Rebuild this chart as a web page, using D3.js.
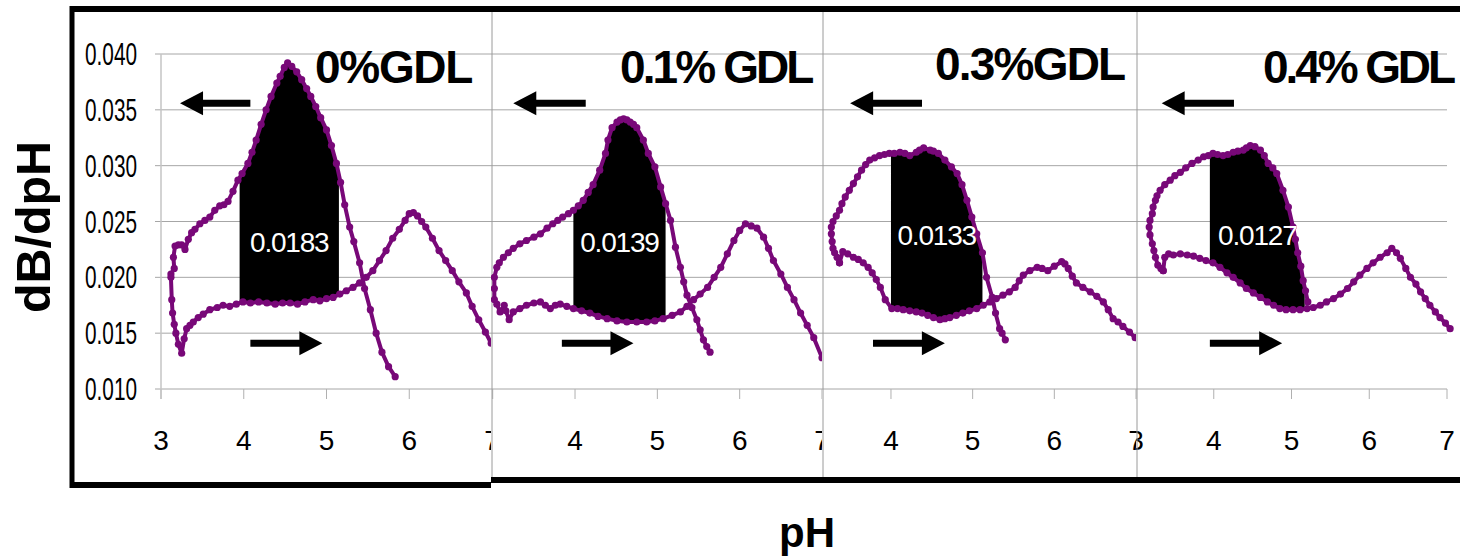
<!DOCTYPE html>
<html>
<head>
<meta charset="utf-8">
<script src="https://cdn.jsdelivr.net/npm/d3@7"></script>
<style>
  body { margin: 0; background: #fff; }
  text { font-family: "Liberation Sans", Arial, sans-serif; }
  .narrow { font-family: "Liberation Sans Narrow", "Arial Narrow", sans-serif; }
</style>
</head>
<body>
<div id="chart"></div>
<script>
// panel titles and the integrated area printed in each black region
var panelNames = ["0%GDL", "0.1% GDL", "0.3%GDL", "0.4% GDL"];
var areaLabels = ["0.0183", "0.0139", "0.0133", "0.0127"];
var areaRange = [[3.95, 5.15], [3.98, 5.10], [4.00, 5.12], [3.95, 5.17]];
var yTicks = [0.010, 0.015, 0.020, 0.025, 0.030, 0.035, 0.040];
var xTicks = [3, 4, 5, 6, 7];

// acid titration (pH going down, upper branch), then base titration (pH going up)
var acid0 = [[5.83,0.0111],[5.75,0.0120],[5.67,0.0133],[5.60,0.0150],[5.53,0.0171],[5.46,0.0190],[5.40,0.0213],[5.33,0.0232],[5.28,0.0245],[5.22,0.0265],[5.17,0.0285],[5.12,0.0302],[5.06,0.0318],[5.00,0.0332],[4.93,0.0343],[4.87,0.0353],[4.81,0.0362],[4.76,0.0369],[4.70,0.0377],[4.64,0.0384],[4.58,0.0389],[4.53,0.0392],[4.49,0.0388],[4.44,0.0380],[4.40,0.0374],[4.33,0.0362],[4.27,0.0350],[4.21,0.0337],[4.15,0.0323],[4.10,0.0312],[4.05,0.0302],[3.98,0.0293],[3.93,0.0287],[3.87,0.0277],[3.81,0.0268],[3.76,0.0265],[3.71,0.0264],[3.65,0.0260],[3.59,0.0254],[3.53,0.0251],[3.47,0.0248],[3.41,0.0243],[3.37,0.0240],[3.33,0.0234],[3.29,0.0225],[3.25,0.0229],[3.21,0.0229],[3.17,0.0228],[3.15,0.0218],[3.16,0.0208],[3.12,0.0203]];
var base0 = [[3.12,0.0200],[3.13,0.0180],[3.14,0.0168],[3.16,0.0158],[3.18,0.0150],[3.21,0.0140],[3.25,0.0132],[3.28,0.0145],[3.31,0.0154],[3.35,0.0157],[3.39,0.0160],[3.45,0.0164],[3.51,0.0167],[3.59,0.0171],[3.68,0.0173],[3.75,0.0175],[3.83,0.0174],[3.91,0.0176],[3.99,0.0178],[4.08,0.0177],[4.18,0.0178],[4.28,0.0177],[4.38,0.0176],[4.47,0.0177],[4.56,0.0177],[4.65,0.0176],[4.74,0.0178],[4.84,0.0180],[4.92,0.0179],[5.00,0.0181],[5.08,0.0182],[5.16,0.0185],[5.24,0.0188],[5.32,0.0191],[5.40,0.0195],[5.48,0.0200],[5.56,0.0206],[5.64,0.0215],[5.72,0.0224],[5.80,0.0235],[5.88,0.0243],[5.95,0.0251],[6.00,0.0257],[6.05,0.0258],[6.10,0.0255],[6.15,0.0250],[6.20,0.0245],[6.28,0.0235],[6.36,0.0224],[6.44,0.0215],[6.52,0.0206],[6.60,0.0196],[6.69,0.0186],[6.76,0.0174],[6.84,0.0162],[6.92,0.0151],[6.99,0.0141]];

var acid1 = [[5.64,0.0133],[5.60,0.0138],[5.56,0.0144],[5.52,0.0153],[5.48,0.0162],[5.42,0.0173],[5.36,0.0184],[5.32,0.0196],[5.28,0.0209],[5.22,0.0227],[5.16,0.0251],[5.10,0.0266],[5.04,0.0281],[4.97,0.0299],[4.89,0.0311],[4.83,0.0323],[4.75,0.0334],[4.71,0.0337],[4.67,0.0339],[4.63,0.0341],[4.59,0.0342],[4.55,0.0341],[4.51,0.0339],[4.45,0.0334],[4.40,0.0323],[4.37,0.0311],[4.30,0.0296],[4.22,0.0283],[4.16,0.0276],[4.10,0.0269],[4.04,0.0264],[3.98,0.0260],[3.92,0.0257],[3.85,0.0254],[3.79,0.0251],[3.73,0.0248],[3.66,0.0244],[3.58,0.0239],[3.50,0.0236],[3.41,0.0233],[3.33,0.0230],[3.25,0.0226],[3.19,0.0222],[3.13,0.0218],[3.08,0.0213],[3.05,0.0209],[3.02,0.0200],[3.02,0.0190]];
var base1 = [[3.02,0.0180],[3.05,0.0176],[3.09,0.0169],[3.14,0.0175],[3.16,0.0170],[3.20,0.0162],[3.25,0.0169],[3.33,0.0172],[3.41,0.0175],[3.50,0.0177],[3.58,0.0178],[3.64,0.0175],[3.70,0.0172],[3.76,0.0175],[3.82,0.0176],[3.90,0.0174],[3.98,0.0172],[4.08,0.0170],[4.18,0.0168],[4.28,0.0165],[4.39,0.0163],[4.51,0.0161],[4.63,0.0160],[4.75,0.0160],[4.87,0.0160],[4.97,0.0161],[5.07,0.0163],[5.18,0.0166],[5.28,0.0169],[5.36,0.0174],[5.44,0.0180],[5.52,0.0185],[5.61,0.0191],[5.69,0.0200],[5.77,0.0209],[5.85,0.0221],[5.93,0.0233],[6.00,0.0242],[6.07,0.0248],[6.14,0.0246],[6.21,0.0244],[6.29,0.0236],[6.35,0.0226],[6.41,0.0215],[6.50,0.0203],[6.58,0.0191],[6.66,0.0180],[6.74,0.0168],[6.82,0.0157],[6.90,0.0146],[7.00,0.0128]];

var acid3 = [[5.40,0.0144],[5.36,0.0150],[5.33,0.0154],[5.28,0.0168],[5.24,0.0182],[5.17,0.0200],[5.12,0.0222],[5.05,0.0239],[4.99,0.0254],[4.93,0.0269],[4.87,0.0283],[4.81,0.0293],[4.74,0.0299],[4.66,0.0305],[4.58,0.0311],[4.52,0.0313],[4.48,0.0314],[4.40,0.0316],[4.35,0.0314],[4.31,0.0312],[4.23,0.0309],[4.17,0.0311],[4.11,0.0312],[4.04,0.0311],[3.98,0.0311],[3.92,0.0310],[3.86,0.0309],[3.80,0.0307],[3.74,0.0305],[3.69,0.0301],[3.64,0.0296],[3.59,0.0290],[3.54,0.0284],[3.49,0.0278],[3.44,0.0272],[3.40,0.0266],[3.37,0.0260],[3.33,0.0255],[3.29,0.0250],[3.27,0.0245],[3.27,0.0239],[3.28,0.0232],[3.29,0.0226],[3.31,0.0222],[3.34,0.0218],[3.37,0.0213]];
var base3 = [[3.37,0.0213],[3.41,0.0223],[3.47,0.0221],[3.54,0.0218],[3.60,0.0216],[3.66,0.0213],[3.72,0.0209],[3.77,0.0204],[3.82,0.0198],[3.87,0.0191],[3.93,0.0180],[4.01,0.0172],[4.08,0.0172],[4.15,0.0171],[4.23,0.0170],[4.31,0.0169],[4.38,0.0168],[4.45,0.0166],[4.52,0.0164],[4.60,0.0162],[4.66,0.0163],[4.72,0.0164],[4.80,0.0166],[4.88,0.0168],[4.96,0.0170],[5.05,0.0172],[5.13,0.0175],[5.21,0.0178],[5.29,0.0181],[5.37,0.0184],[5.45,0.0187],[5.52,0.0191],[5.57,0.0197],[5.62,0.0202],[5.70,0.0206],[5.79,0.0209],[5.85,0.0208],[5.92,0.0206],[6.00,0.0210],[6.09,0.0214],[6.13,0.0212],[6.17,0.0208],[6.22,0.0201],[6.27,0.0195],[6.35,0.0191],[6.44,0.0187],[6.52,0.0183],[6.60,0.0178],[6.66,0.0171],[6.72,0.0163],[6.78,0.0160],[6.84,0.0156],[6.92,0.0151],[6.99,0.0146]];

var acid4 = [[5.21,0.0178],[5.18,0.0188],[5.15,0.0197],[5.12,0.0210],[5.08,0.0222],[5.05,0.0234],[5.02,0.0245],[4.96,0.0263],[4.89,0.0278],[4.81,0.0293],[4.76,0.0298],[4.70,0.0302],[4.65,0.0309],[4.60,0.0314],[4.53,0.0317],[4.47,0.0318],[4.42,0.0316],[4.38,0.0314],[4.31,0.0313],[4.25,0.0312],[4.18,0.0310],[4.12,0.0309],[4.05,0.0310],[3.99,0.0311],[3.93,0.0309],[3.87,0.0308],[3.80,0.0305],[3.72,0.0302],[3.64,0.0298],[3.57,0.0294],[3.50,0.0291],[3.44,0.0287],[3.37,0.0283],[3.31,0.0278],[3.27,0.0273],[3.25,0.0269],[3.22,0.0263],[3.21,0.0257],[3.18,0.0251],[3.17,0.0245],[3.18,0.0238],[3.21,0.0230],[3.23,0.0224],[3.25,0.0218],[3.28,0.0211],[3.32,0.0208],[3.35,0.0206]];
var base4 = [[3.35,0.0206],[3.37,0.0218],[3.42,0.0221],[3.48,0.0220],[3.57,0.0221],[3.66,0.0220],[3.74,0.0219],[3.82,0.0217],[3.90,0.0215],[3.99,0.0213],[4.08,0.0209],[4.17,0.0204],[4.25,0.0200],[4.34,0.0195],[4.42,0.0190],[4.51,0.0186],[4.60,0.0182],[4.69,0.0178],[4.77,0.0175],[4.85,0.0172],[4.93,0.0171],[5.02,0.0171],[5.11,0.0171],[5.20,0.0172],[5.28,0.0173],[5.37,0.0175],[5.45,0.0178],[5.54,0.0181],[5.63,0.0185],[5.72,0.0190],[5.80,0.0196],[5.88,0.0202],[5.97,0.0208],[6.05,0.0213],[6.14,0.0218],[6.23,0.0222],[6.29,0.0226],[6.35,0.0222],[6.40,0.0217],[6.47,0.0208],[6.53,0.0200],[6.60,0.0194],[6.66,0.0187],[6.72,0.0181],[6.78,0.0175],[6.85,0.0169],[6.91,0.0164],[6.98,0.0159],[7.04,0.0154]];

var acids = [acid0, acid1, acid3, acid4];
var bases = [base0, base1, base3, base4];

// the four pasted panels: visible strip, pixel position of pH 3 and pH 7
var panels = [
  {left: 75,   right: 491,  x3: 161,   x7: 492,  gridFrom: 155,  gridTo: 491,  ticks: [3, 4, 5, 6, 7], title: [315, 83, -1.3]},
  {left: 491,  right: 822,  x3: 492.7, x7: 822,  gridFrom: 491,  gridTo: 822,  ticks: [4, 5, 6, 7],    title: [620, 83, -2.9]},
  {left: 822,  right: 1136, x3: 809.3, x7: 1136, gridFrom: 822,  gridTo: 1136, ticks: [4, 5, 6, 7],    title: [935, 80, -1.8]},
  {left: 1136, right: 1460, x3: 1136,  x7: 1447, gridFrom: 1136, gridTo: 1447, ticks: [3, 4, 5, 6, 7], title: [1263, 83, -3.1]}
];
// arrows in data units: [tip pH, tail pH] left arrow, [tail pH, tip pH] right arrow
var leftArrows  = [[3.23, 4.08], [3.25, 4.13], [3.50, 4.38], [3.33, 4.26]];
var rightArrows = [[4.08, 4.95], [3.84, 4.71], [3.78, 4.66], [3.95, 4.88]];
var labelY = [0.02226, 0.02226, 0.0229, 0.0229];

var W = 1460, H = 556;
var purple = "#780878";

var svg = d3.select("#chart").append("svg")
    .attr("width", W).attr("height", H);

var y = d3.scaleLinear().domain([0.010, 0.040]).range([389, 54]);

function interp(arr, xv) {
  for (var i = 0; i < arr.length - 1; i++) {
    var a = arr[i], b = arr[i + 1];
    if ((a[0] - xv) * (b[0] - xv) <= 0 && a[0] !== b[0])
      return a[1] + (b[1] - a[1]) * (xv - a[0]) / (b[0] - a[0]);
  }
  return arr[0][1];
}

panels.forEach(function(p, i) {
  var x = d3.scaleLinear().domain([3, 7]).range([p.x3, p.x7]);

  svg.append("clipPath").attr("id", "clip" + i)
    .append("rect").attr("x", p.left).attr("y", 12)
    .attr("width", p.right - p.left).attr("height", 466);

  var g = svg.append("g").attr("clip-path", "url(#clip" + i + ")");

  // horizontal gridlines
  g.selectAll(".grid").data(yTicks).enter().append("line")
    .attr("x1", p.gridFrom).attr("x2", p.gridTo)
    .attr("y1", function(d) { return y(d); })
    .attr("y2", function(d) { return y(d); })
    .attr("stroke", "#a6a6a6").attr("stroke-width", 1);

  // x tick marks and labels
  g.selectAll(".xt").data(xTicks).enter().append("line")
    .attr("x1", function(d) { return x(d); }).attr("x2", function(d) { return x(d); })
    .attr("y1", 389).attr("y2", 399)
    .attr("stroke", "#b0b0b0").attr("stroke-width", 1);
  g.selectAll(".xl").data(p.ticks).enter().append("text")
    .attr("class", "narrow")
    .attr("x", function(d) { return x(d); })
    .attr("y", 450)
    .attr("text-anchor", "middle")
    .attr("font-size", 28)
    .text(function(d) { return d; });

  // y axis only on first panel
  if (i === 0) {
    g.append("line").attr("x1", x(3)).attr("x2", x(3))
      .attr("y1", y(0.040)).attr("y2", 399)
      .attr("stroke", "#c4c4c4").attr("stroke-width", 1.5);
    g.selectAll(".yl").data(yTicks).enter().append("text")
      .attr("class", "narrow")
      .attr("x", 85)
      .attr("y", function(d) { return y(d) + 11; })
      .attr("font-size", 32)
      .attr("textLength", 52)
      .attr("lengthAdjust", "spacingAndGlyphs")
      .text(function(d) { return d3.format(".3f")(d); });
  } else {
    g.append("line").attr("x1", p.left + 1).attr("x2", p.left + 1)
      .attr("y1", 12).attr("y2", 478)
      .attr("stroke", "#9a9a9a").attr("stroke-width", 1);
  }

  // black integrated region between the two branches
  var lo = areaRange[i][0], hi = areaRange[i][1];
  var acid = acids[i], base = bases[i];
  var upper = acid.filter(function(d) { return d[0] > lo && d[0] < hi; })
    .sort(function(a, b) { return a[0] - b[0]; });
  var lower = base.filter(function(d) { return d[0] > lo && d[0] < hi; })
    .sort(function(a, b) { return b[0] - a[0]; });
  var poly = [[lo, interp(acid, lo)]].concat(upper)
    .concat([[hi, interp(acid, hi)], [hi, interp(base, hi)]])
    .concat(lower).concat([[lo, interp(base, lo)]]);
  g.append("path")
    .attr("d", d3.line().x(function(d) { return x(d[0]); }).y(function(d) { return y(d[1]); })(poly) + "Z")
    .attr("fill", "#000");

  // the titration curve
  var all = acid.concat(base);
  g.append("path")
    .datum(all)
    .attr("d", d3.line().x(function(d) { return x(d[0]); }).y(function(d) { return y(d[1]); }))
    .attr("fill", "none").attr("stroke", purple).attr("stroke-width", 4)
    .attr("stroke-linejoin", "round");
  g.selectAll(".dot").data(all).enter().append("circle")
    .attr("cx", function(d) { return x(d[0]); })
    .attr("cy", function(d) { return y(d[1]); })
    .attr("r", 3.6)
    .attr("fill", purple);

  // area value
  g.append("text")
    .attr("x", x((lo + hi) / 2)).attr("y", y(labelY[i]))
    .attr("text-anchor", "middle")
    .attr("font-size", 28).attr("letter-spacing", -1.2)
    .attr("fill", "#fff")
    .text(areaLabels[i]);

  // arrows
  var la = leftArrows[i], ra = rightArrows[i];
  var ay1 = y(0.0356), ay2 = y(0.0141);
  var tip = x(la[0]), tail = x(la[1]);
  g.append("path")
    .attr("d", "M" + tip + "," + ay1 + "L" + (tip + 23) + "," + (ay1 - 12) + "L" + (tip + 23) + "," + (ay1 - 3.5) +
      "L" + tail + "," + (ay1 - 3.5) + "L" + tail + "," + (ay1 + 3.5) + "L" + (tip + 23) + "," + (ay1 + 3.5) +
      "L" + (tip + 23) + "," + (ay1 + 12) + "Z")
    .attr("fill", "#000");
  tail = x(ra[0]); tip = x(ra[1]);
  g.append("path")
    .attr("d", "M" + tip + "," + ay2 + "L" + (tip - 23) + "," + (ay2 - 12) + "L" + (tip - 23) + "," + (ay2 - 3.5) +
      "L" + tail + "," + (ay2 - 3.5) + "L" + tail + "," + (ay2 + 3.5) + "L" + (tip - 23) + "," + (ay2 + 3.5) +
      "L" + (tip - 23) + "," + (ay2 + 12) + "Z")
    .attr("fill", "#000");

  // title (kept outside the clip)
  svg.append("text")
    .attr("x", p.title[0]).attr("y", p.title[1])
    .attr("font-size", 46).attr("font-weight", "bold")
    .attr("letter-spacing", p.title[2])
    .text(panelNames[i]);
});

// outer frame
svg.append("line").attr("x1", 70).attr("x2", W).attr("y1", 9).attr("y2", 9)
  .attr("stroke", "#000").attr("stroke-width", 6);
svg.append("line").attr("x1", 72).attr("x2", 72).attr("y1", 6).attr("y2", 488)
  .attr("stroke", "#000").attr("stroke-width", 5);
svg.append("line").attr("x1", 70).attr("x2", 491).attr("y1", 485).attr("y2", 485)
  .attr("stroke", "#000").attr("stroke-width", 6);
svg.append("line").attr("x1", 491).attr("x2", W).attr("y1", 480).attr("y2", 480)
  .attr("stroke", "#000").attr("stroke-width", 6);

// axis titles
svg.append("text")
  .attr("transform", "translate(50,227) rotate(-90)")
  .attr("text-anchor", "middle")
  .attr("font-size", 48).attr("font-weight", "bold")
  .attr("textLength", 172).attr("lengthAdjust", "spacingAndGlyphs")
  .text("dB/dpH");
svg.append("text")
  .attr("x", 807).attr("y", 547)
  .attr("text-anchor", "middle")
  .attr("font-size", 42).attr("font-weight", "bold")
  .text("pH");
</script>
</body>
</html>
